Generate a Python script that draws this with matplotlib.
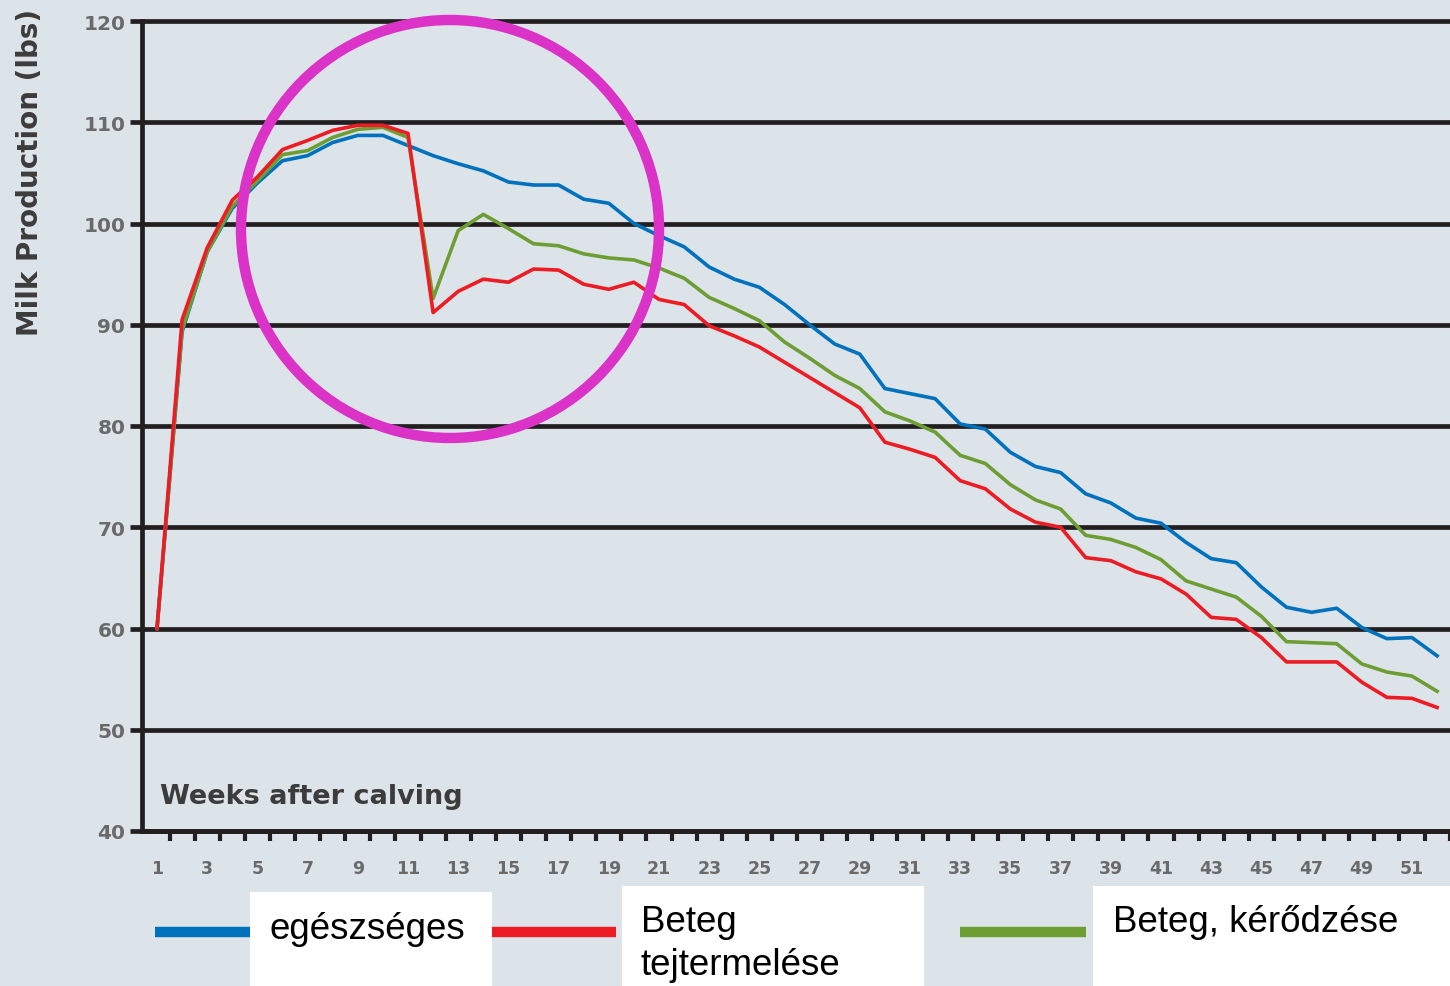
import numpy as np
import matplotlib.pyplot as plt
from matplotlib.lines import Line2D
from matplotlib.patches import Rectangle, Circle

# hetek az ellés után
weeks = np.arange(1, 53)

# egészséges tehén
healthy = [60.0, 89.3, 97.2, 101.5, 104.0, 106.2, 106.7, 108.0, 108.7, 108.7,
           107.7, 106.7, 105.9, 105.2, 104.1, 103.8, 103.8, 102.4, 102.0, 100.0,
           98.8, 97.7, 95.7, 94.5, 93.7, 92.0, 90.0, 88.1, 87.1, 83.7,
           83.2, 82.7, 80.2, 79.7, 77.4, 76.0, 75.4, 73.3, 72.4, 70.9,
           70.4, 68.5, 66.9, 66.5, 64.1, 62.1, 61.6, 62.0, 60.1, 59.0,
           59.1, 57.3]

# beteg tehén tejtermelése
sick_milk = [60.0, 90.5, 97.6, 102.3, 104.6, 107.3, 108.2, 109.2, 109.7, 109.7,
             108.9, 91.2, 93.3, 94.5, 94.2, 95.5, 95.4, 94.0, 93.5, 94.2,
             92.5, 92.0, 89.9, 88.9, 87.8, 86.3, 84.8, 83.3, 81.8, 78.4,
             77.7, 76.9, 74.6, 73.8, 71.8, 70.5, 70.0, 67.0, 66.7, 65.6,
             64.9, 63.4, 61.1, 60.9, 59.1, 56.7, 56.7, 56.7, 54.7, 53.2,
             53.1, 52.2]

# beteg tehén kérődzése
sick_rum = [60.0, 89.5, 97.2, 101.7, 104.2, 106.8, 107.2, 108.5, 109.3, 109.5,
            108.5, 92.6, 99.3, 100.9, 99.5, 98.0, 97.8, 97.0, 96.6, 96.4,
            95.6, 94.6, 92.7, 91.6, 90.4, 88.3, 86.7, 85.0, 83.7, 81.4,
            80.5, 79.4, 77.1, 76.3, 74.2, 72.7, 71.8, 69.2, 68.8, 68.0,
            66.8, 64.7, 63.9, 63.1, 61.2, 58.7, 58.6, 58.5, 56.5, 55.7,
            55.3, 53.8]

labels = ["egészséges", "Beteg\ntejtermelése", "Beteg, kérődzése"]
colors = ["#0071bc", "#ed1c24", "#6e9e33"]
yticks = list(range(40, 130, 10))
xtick_labels = list(range(1, 53, 2))

bg = "#dce4ea"
dark = "#231f20"

W, H = 1450, 987
fig = plt.figure(figsize=(W / 100, H / 100), dpi=100, facecolor=bg)

# tengely: 40 -> 832 px, 120 -> 22 px, 1. hét -> 157 px, 25.1 px/hét
ppu = (832 - 22) / 80
y0, y1 = 39.5, 120.5
x0, x1 = 1 - 15 / 25.1, 1 + (W - 157) / 25.1
ax_bottom = 832 + (40 - y0) * ppu
ax_top = 22 - (y1 - 120) * ppu
ax = fig.add_axes([142 / W, 1 - ax_bottom / H, 1 - 142 / W, (ax_bottom - ax_top) / H])
ax.set_facecolor(bg)
ax.set_xlim(x0, x1)
ax.set_ylim(y0, y1)

for s in ["top", "right"]:
    ax.spines[s].set_visible(False)
ax.spines["left"].set_bounds(40, 120)
ax.spines["bottom"].set_position(("data", 40))
ax.spines["left"].set_linewidth(3.4)
ax.spines["bottom"].set_linewidth(3.4)
ax.spines["left"].set_color(dark)
ax.spines["bottom"].set_color(dark)

ax.set_yticks(yticks)
ax.set_yticklabels([str(v) for v in yticks])
ax.grid(axis="y", color=dark, linewidth=3.4)
ax.set_axisbelow(True)
ax.tick_params(axis="y", length=9, width=3.4, color=dark, pad=3,
               labelsize=14.5, labelcolor="#6a6a6a")
for t in ax.get_yticklabels():
    t.set_fontweight("bold")

ax.set_xticks(xtick_labels)
ax.set_xticklabels([str(v) for v in xtick_labels])
ax.set_xticks(weeks + 0.5, minor=True)
ax.tick_params(axis="x", which="major", length=0, pad=20,
               labelsize=12.5, labelcolor="#6a6a6a")
ax.tick_params(axis="x", which="minor", length=7, width=3, color=dark)
for t in ax.get_xticklabels():
    t.set_fontweight("bold")

for vals, c in zip([healthy, sick_rum, sick_milk], [colors[0], colors[2], colors[1]]):
    ax.plot(weeks, vals, color=c, linewidth=2.6, zorder=3)

ax.text(1.1, 43.5, "Weeks after calving", fontsize=19.5, fontweight="bold",
        color="#3c3c3c", ha="left", va="center")

fig.text(30 / W, 1 - 172 / H, "Milk Production (lbs)", rotation=90,
         fontsize=20, fontweight="bold", color="#3c3c3c", ha="center", va="center")

# átfedő tengely pixel-koordinátákkal a jelmagyarázathoz és a körhöz
ov = fig.add_axes([0, 0, 1, 1], facecolor="none")
ov.set_xlim(0, W)
ov.set_ylim(H, 0)
ov.axis("off")

ov.add_patch(Circle((450, 230), 209, fill=False, edgecolor="#db32c8", linewidth=7.5))

# jelmagyarázat
seg = [(155, 250), (492, 616), (960, 1086)]
boxes = [(250, 893, 492), (622, 887, 924), (1093, 887, 1450)]
for (sx0, sx1), (bx0, by0, bx1), c in zip(seg, boxes, colors):
    ov.add_line(Line2D([sx0, sx1], [933, 933], color=c, linewidth=7.5,
                       solid_capstyle="butt"))
    ov.add_patch(Rectangle((bx0, by0), bx1 - bx0, H - by0, facecolor="white",
                           edgecolor="none"))

font = dict(family=["Liberation Sans", "DejaVu Sans"], fontsize=26.5, color="black")
ov.text(270, 939, labels[0], ha="left", va="baseline", **font)
ov.text(641, 905, labels[1], ha="left", va="top", linespacing=1.3, **font)
ov.text(1113, 932, labels[2], ha="left", va="baseline", **font)

fig.savefig("out.png", dpi=100, facecolor=bg)
